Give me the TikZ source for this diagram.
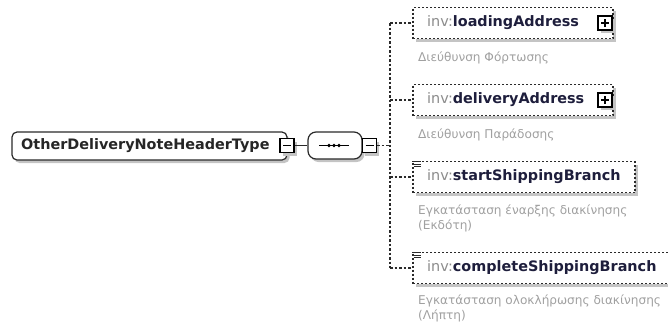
\documentclass[tikz,border=0pt]{standalone}
\usepackage{fontspec}
\setmainfont{DejaVu Sans}
\usetikzlibrary{shadows}
\definecolor{nsgrey}{HTML}{8C8C8C}
\definecolor{namecol}{HTML}{1E1E3C}
\definecolor{desccol}{HTML}{A0A0A0}
\definecolor{shadowcol}{HTML}{C4C4C4}
\definecolor{edgecol}{HTML}{2A2A2A}
\begin{document}
\begin{tikzpicture}[x=1pt,y=-1pt,
  shd/.style={drop shadow={shadow xshift=2.5pt,shadow yshift=-3pt,opacity=1,fill=shadowcol}},
  optbox/.style={draw=edgecol, line width=1.2pt, dash pattern=on 2pt off 2pt, fill=white, inner sep=0pt, minimum height=31pt, shd},
  mainbox/.style={draw=edgecol, line width=1.2pt, fill=white, inner sep=0pt, rounded corners=5pt, shd},
  seqbox/.style={draw=edgecol, line width=1.2pt, fill=white, inner sep=0pt, rounded corners=8pt, shd},
  pmbox/.style={draw=black, line width=1.4pt, fill=white, inner sep=0pt, minimum size=14pt, shd},
  pmline/.style={line width=1.3pt, black},
  conn/.style={draw=edgecol, line width=1.2pt, dash pattern=on 2.5pt off 2pt},
  solidconn/.style={draw=edgecol, line width=1.2pt},
  nm/.style={anchor=west, inner sep=0pt, font=\fontsize{14.4}{16}\selectfont},
  ds/.style={anchor=north west, inner sep=0pt, font=\fontsize{12.1}{14.5}\selectfont, text=desccol, align=left},
  icon/.style={line width=1.1pt, edgecol}
]
\useasboundingbox (0,0) rectangle (668,327);

% main type box
\node[mainbox, minimum width=275pt, minimum height=28pt] (main) at (149.5,146) {};
\node[nm] (maint) at (21,146) {\bfseries\color{black!85}OtherDeliveryNoteHeaderType};
\node[pmbox] (mainm) at (287,145.5) {};
\draw[pmline] ([xshift=-4pt]mainm.center) -- ([xshift=4pt]mainm.center);

% sequence compositor
\node[seqbox, minimum width=54pt, minimum height=27pt] (seq) at (335,145.5) {};
\draw[line width=1.2pt, black] ([xshift=-16pt]seq.center) -- ([xshift=14pt]seq.center);
\fill[black] ([xshift=-6pt]seq.center) circle (1.8pt);
\fill[black] ([xshift=-1pt]seq.center) circle (1.8pt);
\fill[black] ([xshift=4pt]seq.center) circle (1.8pt);
\node[pmbox] (seqm) at (369.5,145.5) {};
\draw[pmline] ([xshift=-4pt]seqm.center) -- ([xshift=4pt]seqm.center);

\draw[solidconn] (mainm.east) -- (seq.west);

% spine
\coordinate (jm) at (390,145.5);
\coordinate (jt) at (390,23);
\coordinate (jb) at (390,268);
\draw[conn] (seqm.east) -- (jm);
\draw[conn] (jt) -- (jb);

% loadingAddress
\node[optbox, minimum width=200pt] (la) at (513,23) {};
\node[nm] (lat) at (427,23) {\color{nsgrey}inv:\bfseries\color{namecol}loadingAddress};
\node[pmbox] (lap) at (605,23) {};
\draw[pmline] ([xshift=-4pt]lap.center) -- ([xshift=4pt]lap.center);
\draw[pmline] ([yshift=-4pt]lap.center) -- ([yshift=4pt]lap.center);
\node[ds] (lad) at (418,52) {Διεύθυνση Φόρτωσης};
\draw[conn] (jt) -- (la.west);

% deliveryAddress
\node[optbox, minimum width=200pt] (da) at (513,100) {};
\node[nm] (dat) at (427,100) {\color{nsgrey}inv:\bfseries\color{namecol}deliveryAddress};
\node[pmbox] (dap) at (605,100) {};
\draw[pmline] ([xshift=-4pt]dap.center) -- ([xshift=4pt]dap.center);
\draw[pmline] ([yshift=-4pt]dap.center) -- ([yshift=4pt]dap.center);
\node[ds] (dad) at (418,129) {Διεύθυνση Παράδοσης};
\draw[conn] (da.west -| jm) -- (da.west);

% startShippingBranch
\node[optbox, minimum width=222pt] (sb) at (524,177) {};
\node[nm] (sbt) at (427,177) {\color{nsgrey}inv:\bfseries\color{namecol}startShippingBranch};
\draw[icon] ([xshift=0pt,yshift=-1pt]sb.north west) -- ([xshift=9pt,yshift=-1pt]sb.north west);
\draw[icon] ([xshift=2pt,yshift=-3.5pt]sb.north west) -- ([xshift=9pt,yshift=-3.5pt]sb.north west);
\draw[icon] ([xshift=2pt,yshift=-6pt]sb.north west) -- ([xshift=9pt,yshift=-6pt]sb.north west);
\node[ds] (sbd) at (418,205) {Εγκατάσταση έναρξης διακίνησης\\(Εκδότη)};
\draw[conn] (sb.west -| jm) -- (sb.west);

% completeShippingBranch
\node[optbox, minimum width=262pt] (cb) at (544,268) {};
\node[nm] (cbt) at (427,268) {\color{nsgrey}inv:\bfseries\color{namecol}completeShippingBranch};
\draw[icon] ([xshift=0pt,yshift=-1pt]cb.north west) -- ([xshift=9pt,yshift=-1pt]cb.north west);
\draw[icon] ([xshift=2pt,yshift=-3.5pt]cb.north west) -- ([xshift=9pt,yshift=-3.5pt]cb.north west);
\draw[icon] ([xshift=2pt,yshift=-6pt]cb.north west) -- ([xshift=9pt,yshift=-6pt]cb.north west);
\node[ds] (cbd) at (418,295) {Εγκατάσταση ολοκλήρωσης διακίνησης\\(Λήπτη)};
\draw[conn] (jb) -- (cb.west);
\end{tikzpicture}
\end{document}
